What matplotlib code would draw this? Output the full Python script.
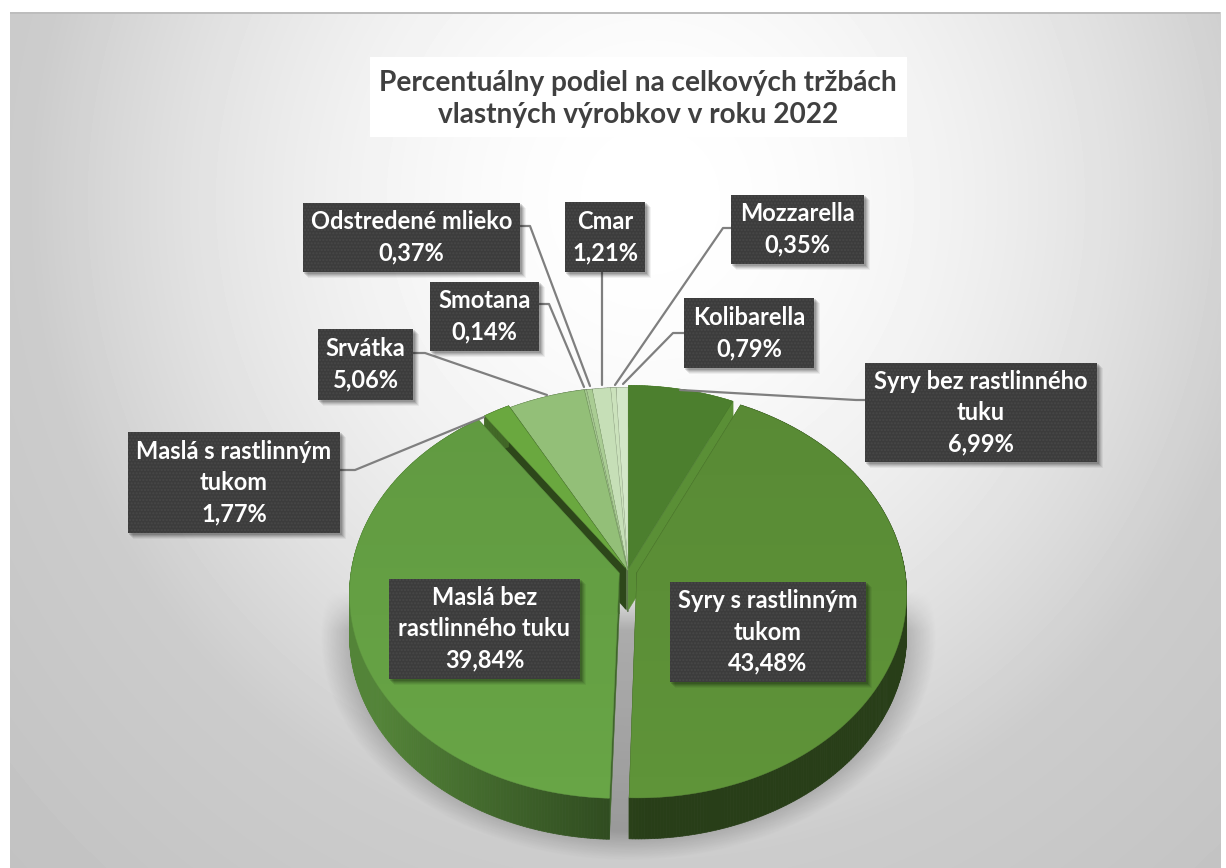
import numpy as np
import matplotlib
matplotlib.use('Agg')
import matplotlib.pyplot as plt
from matplotlib.patches import Rectangle, Polygon
from matplotlib.collections import PolyCollection

plt.rcParams['font.family'] = ['Lato', 'DejaVu Sans']
plt.rcParams['hatch.linewidth'] = 1.0

# Podiel na trzbach v percentach, v smere hodinovych ruciciek od 12. hodiny
produkty = ['Syry bez rastlinného\ntuku', 'Syry s rastlinným\ntukom', 'Maslá bez\nrastlinného tuku',
            'Maslá s rastlinným\ntukom', 'Srvátka', 'Smotana', 'Odstredené mlieko', 'Cmar',
            'Mozzarella', 'Kolibarella']
podiely = [6.99, 43.48, 39.84, 1.77, 5.06, 0.14, 0.37, 1.21, 0.35, 0.79]
titulok = 'Percentuálny podiel na celkových tržbách\nvlastných výrobkov v roku 2022'

farby = ['#4c7f2e', '#5f9439', '#68a546', '#6aa83f', '#93bf78', '#a4c78f', '#a9cc93', '#c6dfb7',
         '#cbe2bc', '#d3e7c8']
vysunutie = [0.014, 0.034, 0.034, 0.016, 0.004, 0.002, 0.002, 0.002, 0.002, 0.002]

# Rozmery kolaca v pixeloch
CX, CY = 628, 571
A, B, K = 268, 202, 0.102
HLBKA = 41

# x0, y0, x1, y1 ramceka popisku
ramceky = [(865, 363, 1097, 462), (670, 582, 866, 682), (389, 579, 580, 679),
           (128, 432, 340, 533), (318, 329, 413, 400), (430, 282, 539, 351),
           (303, 203, 520, 272), (565, 202, 645, 272), (731, 195, 864, 264),
           (684, 298, 814, 368)]
# Lomene spojnice od ramceka ku kolacu
spojnice = [[(865, 400), (856, 400), (680, 390)], None, None,
            [(340, 470), (355, 470), (484, 417)], [(413, 353), (425, 353), (547, 395)],
            [(539, 304), (549, 304), (584, 387)], [(520, 226), (530, 226), (590, 386)],
            [(602, 272), (602, 385)], [(731, 228), (723, 228), (615, 385)],
            [(684, 333), (673, 333), (623, 384)]]


def premietni(u, v, dy=0.0):
    # Perspektiva: vzdialenejsia cast kruhu (v > 0) je mensia
    m = 1 + K * v
    return CX + A * u / m, CY - B * v / m + dy


def stmav(farba, f):
    return tuple(c * f for c in matplotlib.colors.to_rgb(farba))


fig = plt.figure(figsize=(12.26, 8.68), dpi=100, facecolor='white')
ax = fig.add_axes([0, 0, 1, 1])
ax.set_xlim(0, 1226)
ax.set_ylim(868, 0)
ax.axis('off')

# Pozadie s radialnym prechodom
yy, xx = np.mgrid[0:868, 0:1226]
r = np.sqrt(((xx - 650) / 620) ** 2 + ((yy - 200) / 660) ** 2)
pozadie = np.where(r < 1, 1 - 0.2 * r ** 1.8, 0.8 - 0.09 * (r - 1))
pozadie = np.where((xx < 10) | (xx > 1220) | (yy < 12), 1.0, pozadie)
pozadie[12:14, 10:1220] = 0.74
ax.imshow(pozadie, cmap='gray', vmin=0, vmax=1, extent=(0, 1226, 868, 0), aspect='auto', zorder=0)

# Makky tien pod kolacom
d = np.sqrt(((xx - 628) / 308) ** 2 + ((yy - 636) / 224) ** 2)
tien = np.clip((1.0 - d) / 0.13, 0, 1) * np.clip((yy - 590) / 40, 0, 1) * 0.26
tien_rgba = np.zeros((868, 1226, 4))
tien_rgba[..., 3] = tien
ax.imshow(tien_rgba, extent=(0, 1226, 868, 0), aspect='auto', zorder=1)

# Jemne stmavenie hornej casti plochy kolaca
prechod = np.zeros((868, 1226, 4))
prechod[..., 3] = np.clip((800 - yy) / 415, 0, 1) * 0.07

# Vysece kreslene odzadu dopredu
hranice = np.concatenate([[0], np.cumsum(podiely)]) / 100 * 2 * np.pi
stredy = (hranice[:-1] + hranice[1:]) / 2
poradie = np.argsort(-np.cos(stredy))

z = 2.0
for i in poradie:
    t = np.linspace(hranice[i], hranice[i + 1], max(6, int(podiely[i] * 6)))
    du, dv = vysunutie[i] * np.sin(stredy[i]), vysunutie[i] * np.cos(stredy[i])
    u, v = du + np.sin(t), dv + np.cos(t)
    x, y = premietni(u, v)
    x0, y0 = premietni(du, dv)

    # Rezy vysece
    rez = stmav(farby[i], 0.62 if i != 3 else 0.42)
    if i == 0:
        rez = '#5a8f36'
    for xr, yr in ((x[0], y[0]), (x[-1], y[-1])):
        ax.add_patch(Polygon([(x0, y0), (xr, yr), (xr, yr + HLBKA), (x0, y0 + HLBKA)], fc=rez, ec=rez, lw=0.3,
                             zorder=z))
    z += 0.01

    # Vonkajsia stena so zosvetlenim zlava
    steny, farby_steny = [], []
    for j in range(len(t) - 1):
        steny.append([(x[j], y[j]), (x[j + 1], y[j + 1]), (x[j + 1], y[j + 1] + HLBKA), (x[j], y[j] + HLBKA)])
        sv = np.clip((CX + 20 - x[j]) / A, 0, 1)
        farby_steny.append(rez if i == 0 else stmav(farby[i], 0.42 + 0.38 * sv ** 1.1))
    ax.add_collection(PolyCollection(steny, facecolors=farby_steny, edgecolors=farby_steny, linewidths=0.5, zorder=z))
    z += 0.01

    plocha = Polygon(np.column_stack([np.r_[x0, x], np.r_[y0, y]]), fc=farby[i], ec=stmav(farby[i], 0.9), lw=0.3,
                     zorder=z)
    ax.add_patch(plocha)
    z += 0.01
    if podiely[i] > 30:
        obr = ax.imshow(prechod, extent=(0, 1226, 868, 0), aspect='auto', zorder=z)
        obr.set_clip_path(plocha)
        z += 0.01

# Spojnice
for body in spojnice:
    if body is None:
        continue
    bx, by = zip(*body)
    ax.plot(bx, by, color='#7f7f7f', lw=1.6, zorder=8, solid_capstyle='round')

# Ramceky popiskov
for nazov, hodnota, (x0, y0, x1, y1) in zip(produkty, podiely, ramceky):
    for s, a in ((6, 0.05), (5, 0.07), (4, 0.09), (3, 0.11), (2, 0.13)):
        ax.add_patch(Rectangle((x0 + s - 1, y0 + s - 1), x1 - x0 + 1, y1 - y0 + 1, fc='black', alpha=a, lw=0, zorder=9))
    ax.add_patch(Rectangle((x0, y0), x1 - x0, y1 - y0, fc='#3c3c3c', ec='none', lw=0, zorder=10))
    ax.add_patch(Rectangle((x0, y0), x1 - x0, y1 - y0, fc='none', ec='#484848', lw=0, hatch='.....', zorder=10.1))
    text = nazov + '\n' + f'{hodnota:.2f}'.replace('.', ',') + '%'
    ax.text((x0 + x1) / 2, (y0 + y1) / 2, text, color='white', fontsize=17, fontweight='bold', ha='center',
            va='center', linespacing=1.44, zorder=11)

# Titulok na bielom podklade
ax.add_patch(Rectangle((370, 57), 537, 80, fc='white', ec='none', zorder=9))
ax.text(638, 99, titulok, color='#404040', fontsize=20.2, fontweight='bold', ha='center', va='center',
        linespacing=1.25, zorder=11)

fig.savefig('out.png', dpi=100)
